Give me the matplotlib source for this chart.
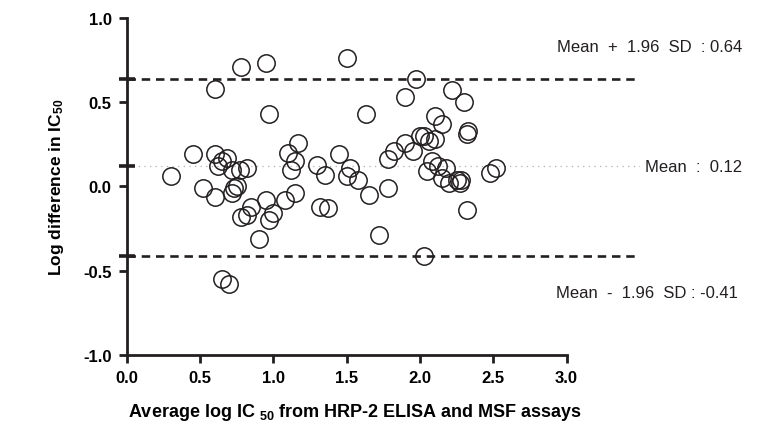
import numpy as np
import matplotlib.pyplot as plt
from matplotlib.ticker import FixedLocator

plt.rcParams['font.family'] = ['Liberation Sans', 'DejaVu Sans']
plt.rcParams['mathtext.default'] = 'regular'

# Bland-Altman data: average log IC50 vs log difference
avg_log = [0.60, 0.78, 0.95, 0.97, 1.50, 1.97, 1.63, 1.90, 2.10, 2.22, 2.15, 2.30, 2.32, 2.33,
           0.30, 0.45, 0.52, 0.60, 0.62, 0.65, 0.68, 0.60, 0.72, 0.73, 0.75, 0.77, 0.82, 0.72,
           0.78, 0.82, 0.85, 0.90, 0.95, 0.97, 1.00, 1.08, 1.10, 1.12, 1.15, 1.17, 1.15,
           1.30, 1.32, 1.35, 1.37, 1.45, 1.50, 1.52, 1.58, 1.65, 1.72, 1.78, 1.78, 1.82,
           1.90, 1.95, 2.00, 2.03, 2.06, 2.05, 2.08, 2.10, 2.12, 2.15, 2.18, 2.20, 2.25,
           2.27, 2.28, 2.32, 2.48, 2.52, 2.03, 0.65, 0.70]
log_diff = [0.58, 0.71, 0.73, 0.43, 0.76, 0.64, 0.43, 0.53, 0.42, 0.57, 0.37, 0.50, 0.31, 0.33,
            0.06, 0.19, -0.01, 0.19, 0.12, 0.15, 0.17, -0.06, -0.04, -0.01, 0.00, 0.10, 0.11, 0.10,
            -0.18, -0.17, -0.12, -0.31, -0.08, -0.20, -0.16, -0.08, 0.20, 0.10, 0.15, 0.26, -0.04,
            0.13, -0.12, 0.07, -0.13, 0.19, 0.06, 0.11, 0.04, -0.05, -0.29, -0.01, 0.16, 0.21,
            0.26, 0.21, 0.30, 0.30, 0.27, 0.09, 0.15, 0.28, 0.12, 0.05, 0.11, 0.02, 0.04,
            0.02, 0.04, -0.14, 0.08, 0.11, -0.41, -0.55, -0.58]

mean_diff = 0.12
upper = 0.64
lower = -0.41

ink = '#231f20'

fig = plt.figure(figsize=(7.69, 4.39), dpi=100)
ax = fig.add_axes([0.165, 0.189, 0.667, 0.768])

ax.axhline(mean_diff, color='#b0b0b0', lw=0.9, ls=(0, (1, 3.5)), zorder=1)
ax.axhline(upper, color=ink, lw=1.9, ls=(0, (3.2, 2.2)), zorder=1)
ax.axhline(lower, color=ink, lw=1.9, ls=(0, (3.2, 2.2)), zorder=1)

ax.plot(avg_log, log_diff, 'o', ms=12.5, mfc='none', mec=ink, mew=1.1, zorder=2)

ax.set_xlim(0, 3.5)
ax.set_ylim(-1, 1)
ax.set_xticks(np.arange(0, 3.01, 0.5))
ax.set_yticks(np.arange(-1, 1.01, 0.5))
ax.yaxis.set_minor_locator(FixedLocator([upper, mean_diff, lower]))
ax.xaxis.set_minor_locator(FixedLocator([]))
ax.xaxis.set_major_formatter(plt.FormatStrFormatter('%.1f'))
ax.yaxis.set_major_formatter(plt.FormatStrFormatter('%.1f'))

for s in ['top', 'right']:
    ax.spines[s].set_visible(False)
for s in ['left', 'bottom']:
    ax.spines[s].set_linewidth(2.0)
    ax.spines[s].set_color(ink)
ax.spines['bottom'].set_bounds(0, 3.0)

ax.tick_params(which='major', direction='out', length=6, width=2.0, color=ink,
               labelsize=12, pad=5)
ax.tick_params(axis='y', which='minor', direction='inout', length=12, width=2.6, color=ink)
for lab in ax.get_xticklabels() + ax.get_yticklabels():
    lab.set_fontweight('bold')

ax.set_ylabel('Log difference in IC$_{50}$', fontsize=12.5, fontweight='bold', labelpad=12)
ax.set_xlabel('Average log IC $_{50}$ from HRP-2 ELISA and MSF assays', fontsize=13,
              fontweight='bold')
ax.xaxis.set_label_coords(0.445, -0.135)

tx = 4.2
ax.text(tx, 0.83, 'Mean  +  1.96  SD  : 0.64', ha='right', va='center', fontsize=12,
        color=ink, clip_on=False)
ax.text(tx, mean_diff, 'Mean  :  0.12', ha='right', va='center', fontsize=12,
        color=ink, clip_on=False)
ax.text(tx - 0.03, -0.63, 'Mean  -  1.96  SD : -0.41', ha='right', va='center', fontsize=12,
        color=ink, clip_on=False)

fig.savefig('out.png', dpi=100)
